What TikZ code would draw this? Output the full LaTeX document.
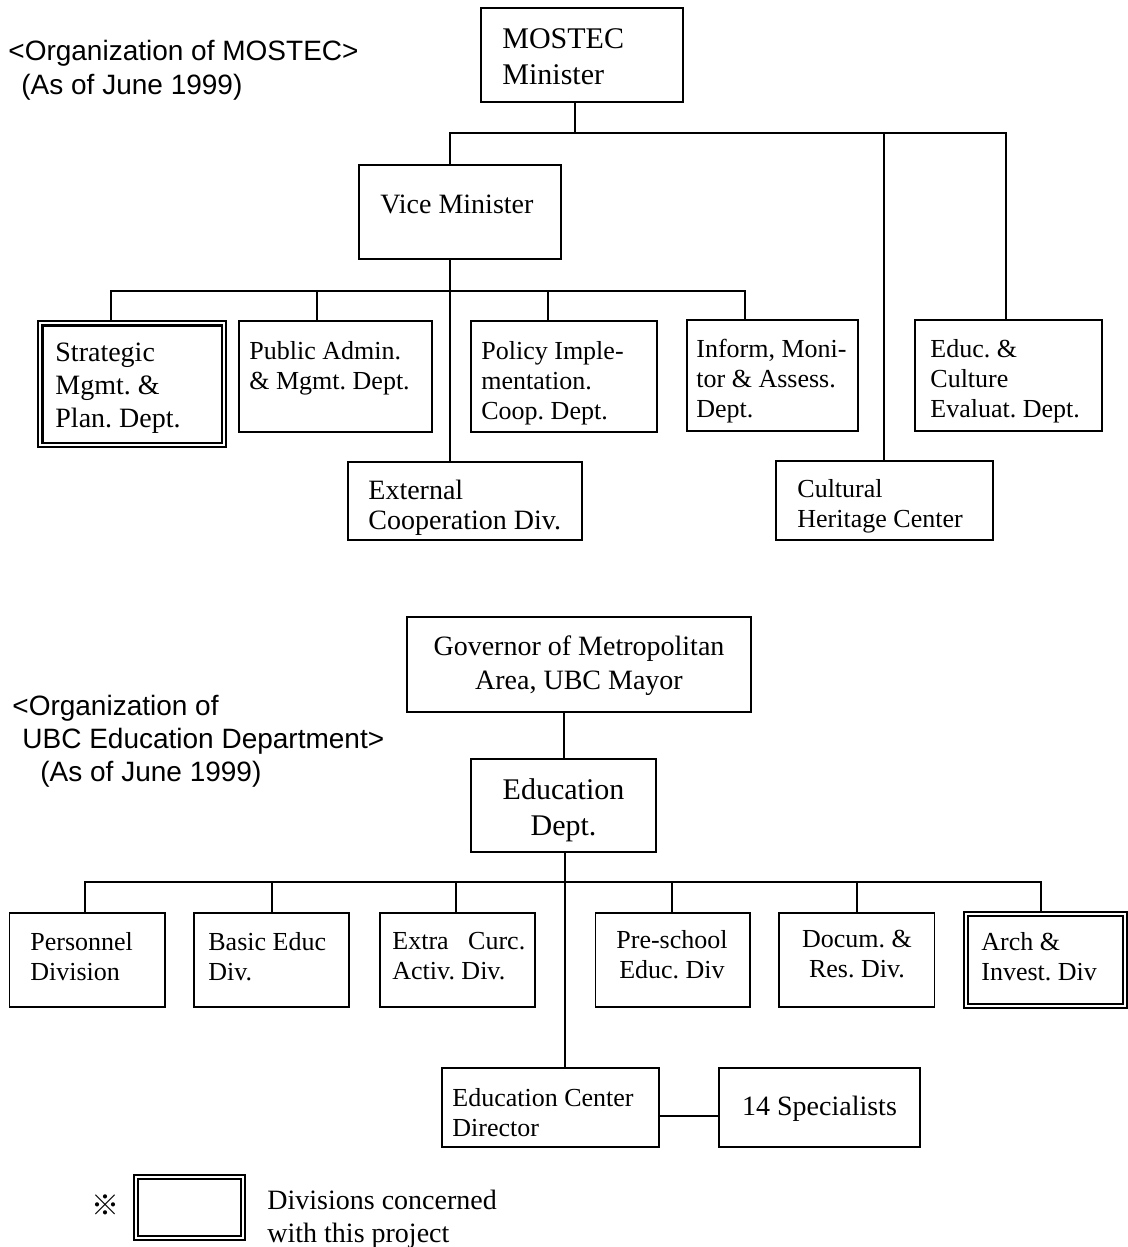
\documentclass[tikz,border=0pt]{standalone}
\usepackage{fontspec}
\setmainfont{Liberation Serif}
\newfontfamily\titlefont{Liberation Sans}
\newfontfamily\cjkfont{Noto Sans CJK JP}
\usetikzlibrary{fit}
\tikzset{
  box/.style={draw, line width=0.8pt, inner sep=0pt},
  obox/.style={draw, line width=0.6pt, inner sep=0pt},
  ibox/.style={line width=1.1pt},
  conn/.style={line width=1pt},
  txt/.style={inner sep=0pt, align=left, anchor=north west},
  ctxt/.style={inner sep=0pt, align=center, anchor=north},
  fbig/.style={font=\fontsize{15}{18}\selectfont},
  fmid/.style={font=\fontsize{14}{16.5}\selectfont},
  fsmall/.style={font=\fontsize{13}{15}\selectfont},
  ftitle/.style={font=\titlefont\fontsize{14}{17}\selectfont},
}
\begin{document}
\frenchspacing
\begin{tikzpicture}[x=0.5pt,y=-0.5pt]
\useasboundingbox (0,0) rectangle (1128,1247);

% ---------- MOSTEC ----------
\node[txt, ftitle] (title1) at (8,40) {<Organization of MOSTEC>\\\hspace*{6.5pt}(As of June 1999)};

\node[box, fit={(481,8) (683,102)}] (mostec) {};
\node[txt, fbig] (mostec-t) at (502,28) {MOSTEC\\Minister};

\node[box, fit={(359,165) (561,259)}] (vice) {};
\node[txt, fmid] (vice-t) at (380,195) {Vice Minister};

\node[obox, fit={(38,321) (226,447)}] (strat) {};
\draw[ibox] ([xshift=2.5pt,yshift=-2.5pt]strat.north west) rectangle ([xshift=-2.5pt,yshift=2.5pt]strat.south east);
\node[txt, fmid] (strat-t) at (55,343) {Strategic\\Mgmt. \&\\Plan. Dept.};

\node[box, fit={(239,321) (432,432)}] (pub) {};
\node[txt, fsmall] (pub-t) at (249,341) {Public Admin.\\\& Mgmt. Dept.};

\node[box, fit={(471,321) (657,432)}] (policy) {};
\node[txt, fsmall] (policy-t) at (481,341) {Policy Imple-\\mentation.\\Coop. Dept.};

\node[box, fit={(687,320) (858,431)}] (inform) {};
\node[txt, fsmall] (inform-t) at (696,339) {Inform, Moni-\\tor \& Assess.\\Dept.};

\node[box, fit={(915,320) (1102,431)}] (educ) {};
\node[txt, fsmall] (educ-t) at (930,339) {Educ. \&\\Culture\\Evaluat. Dept.};

\node[box, fit={(348,462) (582,540)}] (ext) {};
\node[txt, font=\fontsize{14}{15}\selectfont] (ext-t) at (368,480) {External\\Cooperation Div.};

\node[box, fit={(776,461) (993,540)}] (cult) {};
\node[txt, fsmall] (cult-t) at (797,479) {Cultural\\Heritage Center};

\coordinate (tL) at (450,133);
\coordinate (tM) at (575,133);
\coordinate (tC) at (884,133);
\coordinate (tR) at (1006,133);
\draw[conn] (mostec.south -| tM) -- (tM);
\draw[conn] (vice.north -| tL) -- (tL) -- (tR) -- (educ.north -| tR);
\draw[conn] (tC) -- (cult.north -| tC);

\coordinate (mL) at (111,291);
\coordinate (mA) at (317,291);
\coordinate (mC) at (450,291);
\coordinate (mB) at (548,291);
\coordinate (mR) at (745,291);
\draw[conn] (strat.north -| mL) -- (mL) -- (mR) -- (inform.north -| mR);
\draw[conn] (mA) -- (pub.north -| mA);
\draw[conn] (mB) -- (policy.north -| mB);
\draw[conn] (vice.south -| mC) -- (ext.north -| mC);

% ---------- UBC ----------
\node[txt, font=\titlefont\fontsize{14}{16.5}\selectfont] (title2) at (12,695) {<Organization of\\\hspace*{5pt}UBC Education Department>\\\hspace*{14pt}(As of June 1999)};

\node[box, fit={(407,617) (751,712)}] (gov) {};
\node[ctxt, font=\fontsize{14}{17}\selectfont] (gov-t) at (579,635) {Governor of Metropolitan\\Area, UBC Mayor};

\node[box, fit={(471,759) (656,852)}] (edept) {};
\node[ctxt, fbig] (edept-t) at (563.5,778) {Education\\Dept.};

\node[box, fit={(9.5,913) (165,1007)}] (pers) {};
\node[txt, fsmall] (pers-t) at (30,932) {Personnel\\Division};

\node[box, fit={(194,913) (349,1007)}] (basic) {};
\node[txt, fsmall] (basic-t) at (208,932) {Basic Educ\\Div.};

\node[box, fit={(380,913) (535,1007)}] (extra) {};
\node[txt, fsmall] (extra-t) at (392,932) {Extra\ \ \ Curc.\\Activ. Div.};

\node[box, fit={(595.5,913) (750,1007)}] (pre) {};
\node[ctxt, fsmall] (pre-t) at (672,930) {Pre-school\\Educ. Div};

\node[box, fit={(779,913) (934.5,1007)}] (docum) {};
\node[ctxt, fsmall] (docum-t) at (857,930) {Docum. \&\\Res. Div.};

\node[obox, fit={(964,912) (1127,1008)}] (arch) {};
\draw[ibox] ([xshift=2.3pt,yshift=-2.3pt]arch.north west) rectangle ([xshift=-2.3pt,yshift=2.3pt]arch.south east);
\node[txt, fsmall] (arch-t) at (981,932) {Arch \&\\Invest. Div};

\node[box, fit={(442,1068) (659,1147)}] (edc) {};
\node[txt, fsmall] (edc-t) at (452,1088) {Education Center\\Director};

\node[box, fit={(719,1068) (920,1147)}] (spec) {};
\node[ctxt, fmid] (spec-t) at (819.5,1096) {14 Specialists};

\draw[conn] (gov.south -| edept.north) -- (edept.north);
\coordinate (bL) at (85,882);
\coordinate (b2) at (272,882);
\coordinate (b3) at (456,882);
\coordinate (bC) at (565,882);
\coordinate (b5) at (672,882);
\coordinate (b6) at (857,882);
\coordinate (bR) at (1041,882);
\draw[conn] (pers.north -| bL) -- (bL) -- (bR) -- (arch.north -| bR);
\draw[conn] (b2) -- (basic.north -| b2);
\draw[conn] (b3) -- (extra.north -| b3);
\draw[conn] (b5) -- (pre.north -| b5);
\draw[conn] (b6) -- (docum.north -| b6);
\draw[conn] (edept.south -| bC) -- (edc.north -| bC);
\coordinate (sj) at (690,1116);
\draw[conn] (edc.east |- sj) -- (spec.west |- sj);

% ---------- legend ----------
\node[inner sep=0pt, font=\cjkfont\fontsize{14}{14}\selectfont] (mark) at (105.5,1205) {※};
\node[obox, fit={(134,1175) (245,1240)}] (legbox) {};
\draw[ibox] ([xshift=2.3pt,yshift=-2.3pt]legbox.north west) rectangle ([xshift=-2.3pt,yshift=2.3pt]legbox.south east);
\node[txt, fmid] (leg-t) at (267,1190) {Divisions concerned\\with this project};
\end{tikzpicture}
\end{document}
